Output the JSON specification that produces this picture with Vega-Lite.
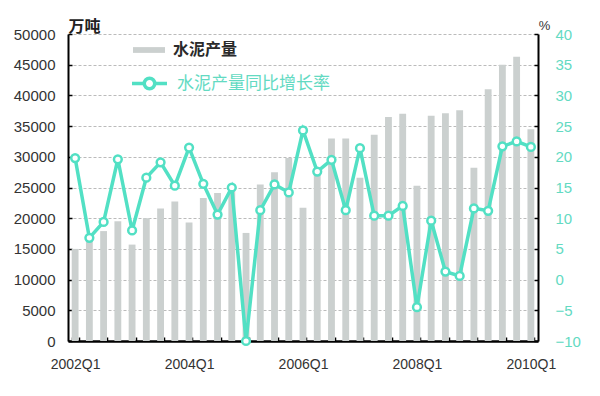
{
  "$schema": "https://vega.github.io/schema/vega-lite/v6.json",
  "width": 470,
  "height": 307,
  "autosize": "none",
  "padding": {"left": 68, "top": 34, "right": 62, "bottom": 55},
  "background": "white",
  "config": {"view": {"stroke": null}, "font": "Liberation Sans"},
  "data": {"values": [
    {"q": "2002Q1", "prod": 15000, "growth": 19.8},
    {"q": "2002Q2", "prod": 16500, "growth": 6.8},
    {"q": "2002Q3", "prod": 17900, "growth": 9.4},
    {"q": "2002Q4", "prod": 19500, "growth": 19.6},
    {"q": "2003Q1", "prod": 15700, "growth": 8.0},
    {"q": "2003Q2", "prod": 20000, "growth": 16.6},
    {"q": "2003Q3", "prod": 21600, "growth": 19.1},
    {"q": "2003Q4", "prod": 22700, "growth": 15.3},
    {"q": "2004Q1", "prod": 19300, "growth": 21.5},
    {"q": "2004Q2", "prod": 23300, "growth": 15.6},
    {"q": "2004Q3", "prod": 24100, "growth": 10.6},
    {"q": "2004Q4", "prod": 25500, "growth": 15.0},
    {"q": "2005Q1", "prod": 17600, "growth": -10.0},
    {"q": "2005Q2", "prod": 25500, "growth": 11.3},
    {"q": "2005Q3", "prod": 27500, "growth": 15.5},
    {"q": "2005Q4", "prod": 29800, "growth": 14.2},
    {"q": "2006Q1", "prod": 21700, "growth": 24.3},
    {"q": "2006Q2", "prod": 28000, "growth": 17.6},
    {"q": "2006Q3", "prod": 33000, "growth": 19.5},
    {"q": "2006Q4", "prod": 33000, "growth": 11.3},
    {"q": "2007Q1", "prod": 26600, "growth": 21.4},
    {"q": "2007Q2", "prod": 33600, "growth": 10.4},
    {"q": "2007Q3", "prod": 36500, "growth": 10.4},
    {"q": "2007Q4", "prod": 37000, "growth": 12.0},
    {"q": "2008Q1", "prod": 25300, "growth": -4.5},
    {"q": "2008Q2", "prod": 36700, "growth": 9.6},
    {"q": "2008Q3", "prod": 37100, "growth": 1.3},
    {"q": "2008Q4", "prod": 37600, "growth": 0.6},
    {"q": "2009Q1", "prod": 28200, "growth": 11.6},
    {"q": "2009Q2", "prod": 41000, "growth": 11.2},
    {"q": "2009Q3", "prod": 45000, "growth": 21.7},
    {"q": "2009Q4", "prod": 46300, "growth": 22.5},
    {"q": "2010Q1", "prod": 34500, "growth": 21.6}
  ]},
  "encoding": {
    "x": {
      "field": "q",
      "type": "ordinal",
      "scale": {"paddingInner": 0.52, "paddingOuter": 0.26},
      "axis": {
        "title": null,
        "values": ["2002Q1","2002Q3","2003Q1","2003Q3","2004Q1","2004Q3","2005Q1","2005Q3","2006Q1","2006Q3","2007Q1","2007Q3","2008Q1","2008Q3","2009Q1","2009Q3","2010Q1"],
        "labelExpr": "indexof(['2002Q1','2004Q1','2006Q1','2008Q1','2010Q1'], datum.value) >= 0 ? datum.value : ''",
        "labelAngle": 0,
        "labelFontSize": 14,
        "labelColor": "#333333",
        "labelPadding": 20,
        "tickBand": "extent",
        "tickSize": -4,
        "tickColor": "#000000",
        "tickWidth": 1.5,
        "domainColor": "#000000",
        "domainWidth": 2.5,
        "grid": false
      }
    }
  },
  "layer": [
    {
      "mark": {"type": "bar"},
      "encoding": {
        "y": {
          "field": "prod",
          "type": "quantitative",
          "scale": {"domain": [0, 50000], "nice": false},
          "axis": {
            "title": "万吨",
            "titleFont": "Noto Sans CJK SC",
            "titleFontSize": 16,
            "titleFontWeight": "bold",
            "titleColor": "#222222",
            "titleAngle": 0,
            "titleX": 16,
            "titleY": -8,
            "titleAlign": "center",
            "titleBaseline": "middle",
            "values": [0,5000,10000,15000,20000,25000,30000,35000,40000,45000,50000],
            "format": "d",
            "labelFontSize": 15,
            "labelColor": "#333333",
            "labelPadding": 17,
            "tickSize": -4,
            "tickColor": "#000000",
            "tickWidth": 1.5,
            "domainColor": "#000000",
            "domainWidth": 2,
            "grid": true,
            "gridColor": "#bbbbbb",
            "gridDash": [3, 2],
            "gridWidth": 1
          }
        },
        "fill": {
          "datum": "水泥产量",
          "scale": {"range": ["#cbd0cf"]},
          "legend": {
            "title": null,
            "orient": "none",
            "legendX": 65,
            "legendY": 0,
            "padding": 0,
            "symbolType": "M-1,-0.18H1V0.18H-1Z",
            "symbolSize": 1024,
            "symbolStrokeWidth": 0,
            "symbolFillColor": "#cbd0cf",
            "labelFont": "Noto Sans CJK SC",
            "labelFontSize": 16,
            "labelFontWeight": "bold",
            "labelColor": "#2a2a2a",
            "labelOffset": 8
          }
        }
      }
    },
    {
      "mark": {"type": "line", "strokeWidth": 3.5},
      "encoding": {
        "y": {
          "field": "growth",
          "type": "quantitative",
          "scale": {"domain": [-10, 40], "nice": false},
          "axis": {
            "orient": "right",
            "title": "%",
            "titleFontSize": 13,
            "titleFontWeight": "normal",
            "titleColor": "#333333",
            "titleAngle": 0,
            "titleX": 6,
            "titleY": -9,
            "titleAlign": "center",
            "titleBaseline": "middle",
            "values": [-10,-5,0,5,10,15,20,25,30,35,40],
            "labelFontSize": 15,
            "labelColor": "#63dac2",
            "labelPadding": 21,
            "tickSize": -4,
            "tickColor": "#000000",
            "tickWidth": 1.5,
            "domainColor": "#000000",
            "domainWidth": 2,
            "grid": false
          }
        },
        "stroke": {
          "datum": "水泥产量同比增长率",
          "scale": {"range": ["#52e0c4"]},
          "legend": {
            "title": null,
            "orient": "none",
            "legendX": 62,
            "legendY": 30,
            "padding": 0,
            "symbolType": "M-1,0H-0.3M0.3,0H1M-0.3,0A0.3,0.3,0,1,1,0.3,0A0.3,0.3,0,1,1,-0.3,0",
            "symbolSize": 1225,
            "symbolStrokeWidth": 3.5,
            "symbolStrokeColor": "#52e0c4",
            "symbolFillColor": "white",
            "labelFont": "Noto Sans CJK SC",
            "labelFontSize": 17,
            "labelColor": "#63dac2",
            "labelOffset": 8
          }
        }
      }
    },
    {
      "mark": {"type": "point", "filled": true, "fill": "white", "stroke": "#52e0c4", "strokeWidth": 2.5, "size": 60, "opacity": 1},
      "encoding": {
        "y": {"field": "growth", "type": "quantitative", "scale": {"domain": [-10, 40], "nice": false}, "axis": null}
      }
    }
  ],
  "resolve": {"scale": {"y": "independent"}}
}
